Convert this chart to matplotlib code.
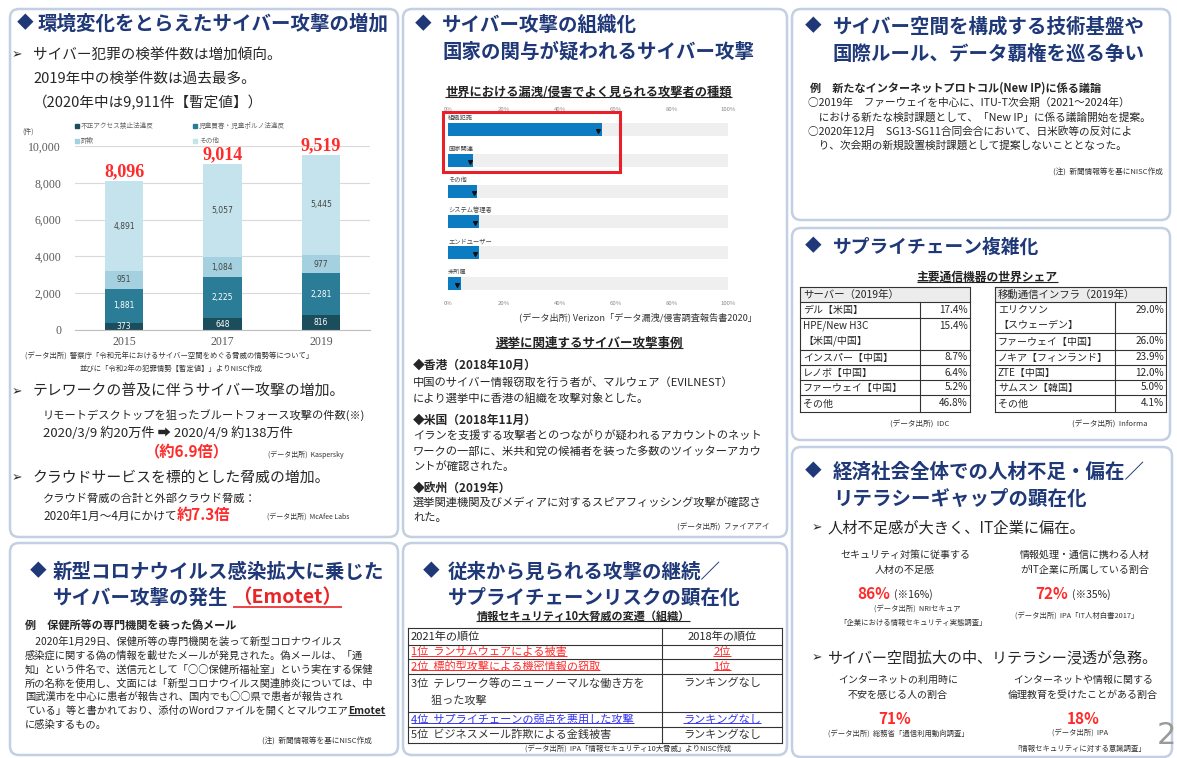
import matplotlib
matplotlib.use('Agg')
import matplotlib.pyplot as plt
from matplotlib.patches import FancyBboxPatch, Rectangle
import numpy as np

plt.rcParams['font.family'] = ['Noto Sans CJK JP', 'DejaVu Sans']

# ---------------- DATA ----------------
years = ['2015', '2017', '2019']
unauthorized_access = [373, 648, 816]
child_porn = [1881, 2225, 2281]
fraud = [951, 1084, 977]
others = [4891, 5057, 5445]
stack_legend = ['不正アクセス禁止法違反', '児童買春・児童ポルノ法違反', '詐欺', 'その他']

actor_labels = ['組織犯罪', '国家関連', 'その他', 'システム管理者', 'エンドユーザー', '未所属']
actor_pct = [55, 9, 10.5, 11, 11, 4.5]
actor_ticks = [0, 20, 40, 60, 80, 100]

server_vendors = ['デル【米国】', 'HPE/New H3C\n【米国/中国】', 'インスパー【中国】', 'レノボ【中国】', 'ファーウェイ【中国】', 'その他']
server_share = ['17.4%', '15.4%', '8.7%', '6.4%', '5.2%', '46.8%']
mobile_vendors = ['エリクソン\n【スウェーデン】', 'ファーウェイ【中国】', 'ノキア【フィンランド】', 'ZTE【中国】', 'サムスン【韓国】', 'その他']
mobile_share = ['29.0%', '26.0%', '23.9%', '12.0%', '5.0%', '4.1%']

threat_2021 = ['1位  ランサムウェアによる被害', '2位  標的型攻撃による機密情報の窃取',
               '3位  テレワーク等のニューノーマルな働き方を\n        狙った攻撃', '4位  サプライチェーンの弱点を悪用した攻撃',
               '5位  ビジネスメール詐欺による金銭被害']
threat_2018 = ['2位', '1位', 'ランキングなし', 'ランキングなし', 'ランキングなし']

# ---------------- STYLE ----------------
W, H = 1177, 758
NAVY = '#1f3878'
TXT = '#262626'
RED = '#ff2b2b'
BLUE = '#3535f0'
C1, C2, C3, C4 = '#1c4d5c', '#2b7c96', '#a4d0df', '#c5e3ec'

fig = plt.figure(figsize=(W / 100, H / 100), dpi=100)
R = fig.canvas.get_renderer()
bg = fig.add_axes([0, 0, 1, 1])
bg.set_xlim(0, W)
bg.set_ylim(H, 0)
bg.set_autoscale_on(False)
bg.axis('off')


def px_axes(x0, y0, x1, y1):
    return fig.add_axes([x0 / W, 1 - y1 / H, (x1 - x0) / W, (y1 - y0) / H])


def T(x, y, s, size=8.0, color=TXT, weight='normal', ha='left', va='center', **kw):
    return bg.text(x, y, s, fontsize=size, color=color, fontweight=weight, ha=ha, va=va, **kw)


def ext(t):
    bb = t.get_window_extent(renderer=R)
    return bb.x0, bb.x1, H - bb.y0, H - bb.y1


def underline(t, color=TXT, lw=0.8, dy=1.0):
    x0, x1, yb, yt = ext(t)
    bg.plot([x0, x1], [yb - dy, yb - dy], color=color, lw=lw, solid_capstyle='butt')


def title(xd, xt, y, lines, size=14):
    T(xd, y, '◆', 12, NAVY)
    for i, s in enumerate(lines):
        T(xt, y + i * 27, s, size, NAVY, 'bold')


# ---------------- PANELS ----------------
panels = [(10, 9, 398, 537), (403, 9, 787, 537), (792, 9, 1170, 220), (792, 228, 1170, 440),
          (792, 447, 1172, 757), (10, 543, 398, 755), (403, 543, 787, 755)]
for x0, y0, x1, y1 in panels:
    bg.add_patch(FancyBboxPatch((x0, y0), x1 - x0, y1 - y0, boxstyle='round,pad=0,rounding_size=9',
                                ec='#c3cfe2', fc='white', lw=1.8))

# ================= Panel A =================
title(17, 38, 24, ['環境変化をとらえたサイバー攻撃の増加'])
T(12, 55, '➢', 9)
T(33, 55, 'サイバー犯罪の検挙件数は増加傾向。', 10.5)
T(33, 79, '2019年中の検挙件数は過去最多。', 10.5)
T(33, 103, '（2020年中は9,911件【暫定値】）', 10.5)

# legend
T(22, 132, '(件)', 5, '#555')
leg_pos = [(75, 126), (193, 126), (75, 141), (193, 141)]
for (lx, ly), lab, c in zip(leg_pos, stack_legend, [C1, C2, C3, C4]):
    bg.add_patch(Rectangle((lx, ly - 2), 4, 4, color=c))
    T(lx + 6, ly, lab, 4.8, '#666')

ax1 = px_axes(75, 146, 370, 330)
ax1.set_facecolor('none')
xpos = np.arange(len(years))
bottom = np.zeros(len(years))
for vals, c, tc in [(unauthorized_access, C1, 'white'), (child_porn, C2, 'white'),
                    (fraud, C3, '#444'), (others, C4, '#444')]:
    vals = np.array(vals)
    ax1.bar(xpos, vals, 0.39, bottom=bottom, color=c, zorder=2)
    for i, v in enumerate(vals):
        ax1.text(xpos[i], bottom[i] + v / 2, f'{v:,}', ha='center', va='center', fontsize=5.5,
                 color=tc, zorder=3, family='DejaVu Sans')
    bottom = bottom + vals
for i, tot in enumerate(bottom):
    ax1.text(xpos[i], tot + 60, f'{int(tot):,}', ha='center', va='bottom', fontsize=13, color=RED,
             fontweight='bold', family='Liberation Serif', clip_on=False)
ax1.set_xlim(-0.5, 2.5)
ax1.set_ylim(0, 10000)
ax1.set_yticks(range(0, 10001, 2000))
ax1.set_yticklabels([f'{v:,}' for v in range(0, 10001, 2000)], family='Liberation Serif')
ax1.set_xticks(xpos)
ax1.set_xticklabels(years, family='Liberation Serif')
ax1.yaxis.grid(True, color='#d9d9d9', lw=0.8, zorder=0)
ax1.set_axisbelow(True)
for s in ['top', 'right', 'left']:
    ax1.spines[s].set_visible(False)
ax1.spines['bottom'].set_color('#bfbfbf')
ax1.tick_params(axis='y', length=0, labelsize=8.5, labelcolor='#595959', pad=10)
ax1.tick_params(axis='x', length=0, labelsize=8.5, labelcolor='#595959', pad=4)

T(25, 357, '(データ出所)  警察庁「令和元年におけるサイバー空間をめぐる脅威の情勢等について」', 5.3, '#333')
T(80, 369, '並びに「令和2年の犯罪情勢【暫定値】」よりNISC作成', 5.3, '#333')

T(12, 392, '➢', 9)
T(33, 392, 'テレワークの普及に伴うサイバー攻撃の増加。', 10.7)
T(43, 415, 'リモートデスクトップを狙ったブルートフォース攻撃の件数(※)', 8.1)
T(43, 433, '2020/3/9 約20万件 ➡ 2020/4/9 約138万件', 9.5)
T(187, 451, '（約6.9倍）', 11, RED, 'bold', ha='center')
T(268, 455, '(データ出所)  Kaspersky', 5, '#333')
T(12, 478, '➢', 9)
T(33, 478, 'クラウドサービスを標的とした脅威の増加。', 10.7)
T(43, 499, 'クラウド脅威の合計と外部クラウド脅威：', 8.1)
t = T(43, 516, '2020年1月～4月にかけて', 8.5)
T(ext(t)[1], 515, '約7.3倍', 11, RED, 'bold')
T(267, 517, '(データ出所)  McAfee Labs', 5, '#333')

# ================= Panel B =================
title(415, 442, 25, ['サイバー攻撃の組織化', '国家の関与が疑われるサイバー攻撃'])
t = T(445, 92, '世界における漏洩/侵害でよく見られる攻撃者の種類', 8.8, '#222', 'bold')
underline(t, '#222', 0.8, 1.5)

ax2 = px_axes(448, 114, 728, 299)
ax2.set_facecolor('none')
yy = np.arange(len(actor_labels))
ax2.barh(yy, [100] * len(yy), 0.42, color='#efefef')
ax2.barh(yy, actor_pct, 0.42, color='#0b7cc1')
ax2.scatter(np.array(actor_pct) - 1.3, yy + 0.05, marker='v', s=7, color='#111', zorder=3)
for i, lab in enumerate(actor_labels):
    ax2.text(0, i - 0.37, lab, fontsize=4.5, va='center', ha='left', color='#444')
ax2.set_xlim(0, 100)
ax2.set_ylim(len(yy) - 0.5, -0.5)
ax2.set_xticks(actor_ticks)
ax2.set_xticklabels([f'{v}%' for v in actor_ticks])
ax2.set_yticks([])
ax2.tick_params(axis='x', labeltop=True, labelbottom=True, length=0, labelsize=4.3,
                labelcolor='#888', pad=1.5)
for s in ax2.spines.values():
    s.set_visible(False)
ax2.add_patch(Rectangle((443, 112), 177, 60, transform=bg.transData, fill=False, ec='#e8202a',
                        lw=2.2, clip_on=False, zorder=5))

T(757, 317, '(データ出所) Verizon「データ漏洩/侵害調査報告書2020」', 6.6, '#333', ha='right')
t = T(589, 343, '選挙に関連するサイバー攻撃事例', 9, '#222', 'bold', ha='center')
underline(t, '#222', 0.8, 1.5)
T(413, 365, '◆香港（2018年10月）', 8.5, TXT, 'bold')
T(413, 382, '中国のサイバー情報窃取を行う者が、マルウェア（EVILNEST）', 8.1)
T(413, 398, 'により選挙中に香港の組織を攻撃対象とした。', 8.1)
T(413, 420, '◆米国（2018年11月）', 8.5, TXT, 'bold')
T(413, 436, 'イランを支援する攻撃者とのつながりが疑われるアカウントのネット', 8.1)
T(413, 452, 'ワークの一部に、米共和党の候補者を装った多数のツイッターアカウ', 8.1)
T(413, 467, 'ントが確認された。', 8.1)
T(413, 488, '◆欧州（2019年）', 8.5, TXT, 'bold')
T(413, 503, '選挙関連機関及びメディアに対するスピアフィッシング攻撃が確認さ', 8.1)
T(413, 518, 'れた。', 8.1)
T(770, 528, '(データ出所)  ファイアアイ', 5.5, '#333', ha='right')

# ================= Panel C =================
title(805, 833, 27, ['サイバー空間を構成する技術基盤や', '国際ルール、データ覇権を巡る争い'])
T(810, 88, '例　新たなインターネットプロトコル(New IP)に係る議論', 8, TXT, 'bold')
T(808, 103, '○2019年　ファーウェイを中心に、ITU-T次会期（2021～2024年）', 7.7)
T(808, 117, '　における新たな検討課題として、「New IP」に係る議論開始を提案。', 7.7)
T(808, 132, '○2020年12月　SG13-SG11合同会合において、日米欧等の反対によ', 7.7)
T(808, 146, '　り、次会期の新規設置検討課題として提案しないこととなった。', 7.7)
T(1163, 173, '(注)  新聞情報等を基にNISC作成', 5.5, '#333', ha='right')

# ================= Panel D =================
title(805, 833, 247, ['サプライチェーン複雑化'], 13.5)
t = T(987, 277, '主要通信機器の世界シェア', 8.5, '#222', 'bold', ha='center')
underline(t, '#222', 0.8, 1.5)


def share_table(x0, xs, x1, rows_y, head, names, vals):
    bg.add_patch(Rectangle((x0, rows_y[0]), x1 - x0, rows_y[1] - rows_y[0], fc='#ececec', ec='none'))
    for y in rows_y:
        bg.plot([x0, x1], [y, y], color='#333', lw=0.8)
    bg.plot([x0, x0], [rows_y[0], rows_y[-1]], color='#333', lw=0.8)
    bg.plot([x1, x1], [rows_y[0], rows_y[-1]], color='#333', lw=0.8)
    bg.plot([xs, xs], [rows_y[1], rows_y[-1]], color='#333', lw=0.8)
    T(x0 + 3, (rows_y[0] + rows_y[1]) / 2, head, 7.5)
    for i, (n, v) in enumerate(zip(names, vals)):
        top = rows_y[i + 1]
        if '\n' in n:
            a, b = n.split('\n')
            T(x0 + 3, top + 8, a, 7.2)
            T(x0 + 3, top + 23, b, 7.2)
            T(x1 - 2, top + 8, v, 7.2, ha='right')
        else:
            yc = (rows_y[i + 1] + rows_y[i + 2]) / 2
            T(x0 + 3, yc, n, 7.2)
            T(x1 - 2, yc, v, 7.2, ha='right')


share_table(800, 920, 970, [287, 302, 318, 350, 365, 380, 395, 412], 'サーバー（2019年）',
            server_vendors, server_share)
share_table(995, 1115, 1166, [287, 302, 333, 350, 365, 380, 395, 412], '移動通信インフラ（2019年）',
            mobile_vendors, mobile_share)
T(920, 425, '(データ出所)  IDC', 5.5, '#333', ha='center')
T(1110, 425, '(データ出所)  Informa', 5.5, '#333', ha='center')

# ================= Panel E =================
title(805, 833, 472, ['経済社会全体での人材不足・偏在／', 'リテラシーギャップの顕在化'])
T(812, 528, '➢', 9)
T(828, 528, '人材不足感が大きく、IT企業に偏在。', 11)
T(905, 555, 'セキュリティ対策に従事する', 7.2, ha='center')
T(905, 570, '人材の不足感', 7.2, ha='center')
T(1085, 555, '情報処理・通信に携わる人材', 7.2, ha='center')
T(1085, 570, 'がIT企業に所属している割合', 7.2, ha='center')
t = T(857, 594, '86%', 11, RED, 'bold')
T(ext(t)[1] + 4, 595, '(※16%)', 7.5)
t = T(1035, 594, '72%', 11, RED, 'bold')
T(ext(t)[1] + 4, 595, '(※35%)', 7.5)
T(917, 610, '(データ出所)  NRIセキュア', 5.3, '#333', ha='center')
T(913, 623, '「企業における情報セキュリティ実態調査」', 5.3, '#333', ha='center')
T(1077, 617, '(データ出所)  IPA「IT人材白書2017」', 5.3, '#333', ha='center')
T(812, 658, '➢', 9)
T(828, 658, 'サイバー空間拡大の中、リテラシー浸透が急務。', 10.8)
T(898, 680, 'インターネットの利用時に', 7.2, ha='center')
T(898, 695, '不安を感じる人の割合', 7.2, ha='center')
T(1083, 680, 'インターネットや情報に関する', 7.2, ha='center')
T(1083, 695, '倫理教育を受けたことがある割合', 7.2, ha='center')
T(895, 719, '71%', 11, RED, 'bold', ha='center')
T(1083, 719, '18%', 11, RED, 'bold', ha='center')
T(898, 735, '(データ出所)  総務省「通信利用動向調査」', 5.3, '#333', ha='center')
T(1080, 734, '(データ出所)  IPA', 5.3, '#333', ha='center')
T(1080, 749, '「情報セキュリティに対する意識調査」', 5.3, '#333', ha='center')
T(1166, 735, '2', 22, '#9a9a9a', ha='center', family='DejaVu Sans')

# ================= Panel F =================
T(30, 572, '◆', 12, NAVY)
T(53, 572, '新型コロナウイルス感染拡大に乗じた', 14, NAVY, 'bold')
t = T(53, 598, 'サイバー攻撃の発生', 14, NAVY, 'bold')
t2 = T(ext(t)[1] + 4, 598, '（Emotet）', 14, '#e8262a', 'bold')
underline(t2, '#e8262a', 1.2, 0.5)
T(25, 625, '例　保健所等の専門機関を装った偽メール', 8, TXT, 'bold')
body_f = ['　2020年1月29日、保健所等の専門機関を装って新型コロナウイルス',
          '感染症に関する偽の情報を載せたメールが発見された。偽メールは、「通',
          '知」という件名で、送信元として「○○保健所福祉室」という実在する保健',
          '所の名称を使用し、文面には「新型コロナウイルス関連肺炎については、中',
          '国武漢市を中心に患者が報告され、国内でも○○県で患者が報告され']
for i, s in enumerate(body_f):
    T(25, 642 + i * 13.8, s, 7.4)
t = T(25, 711, 'ている」等と書かれており、添付のWordファイルを開くとマルウエア', 7.4)
t2 = T(ext(t)[1], 711, 'Emotet', 7.4, TXT, 'bold')
underline(t2, TXT, 0.8, 1.0)
T(25, 725, 'に感染するもの。', 7.4)
T(372, 742, '(注)  新聞情報等を基にNISC作成', 5.5, '#333', ha='right')

# ================= Panel G =================
T(423, 572, '◆', 12, NAVY)
T(448, 572, '従来から見られる攻撃の継続／', 14, NAVY, 'bold')
T(448, 598, 'サプライチェーンリスクの顕在化', 14, NAVY, 'bold')
t = T(583, 616, '情報セキュリティ10大脅威の変遷（組織）', 8, '#222', 'bold', ha='center')
underline(t, '#222', 0.8, 1.5)

gx0, gxs, gx1 = 408, 662, 782
gy = [628, 645, 659, 674, 712, 727, 743]
for y in gy:
    bg.plot([gx0, gx1], [y, y], color='#333', lw=0.8)
for x in (gx0, gxs, gx1):
    bg.plot([x, x], [gy[0], gy[-1]], color='#333', lw=0.8)
T(gx0 + 3, (gy[0] + gy[1]) / 2, '2021年の順位', 8)
T((gxs + gx1) / 2, (gy[0] + gy[1]) / 2, '2018年の順位', 8, ha='center')
row_colors = [RED, RED, '#333', BLUE, '#333']
for i, (a, b, c) in enumerate(zip(threat_2021, threat_2018, row_colors)):
    top, bot = gy[i + 1], gy[i + 2]
    if '\n' in a:
        l1, l2 = a.split('\n')
        ta = T(gx0 + 3, top + 9, l1, 8, c)
        T(gx0 + 3, top + 27, '        ' + l2.strip(), 8, c)
        tb = T((gxs + gx1) / 2, top + 9, b, 8, c, ha='center')
    else:
        yc = (top + bot) / 2
        ta = T(gx0 + 3, yc, a, 8, c)
        tb = T((gxs + gx1) / 2, yc, b, 8, c, ha='center')
    if c != '#333':
        underline(ta, c, 0.7, 1.5)
        underline(tb, c, 0.7, 1.5)
T(628, 750, '(データ出所)  IPA「情報セキュリティ10大脅威」よりNISC作成', 5.3, '#333', ha='center')

fig.savefig('out.png', dpi=100)
